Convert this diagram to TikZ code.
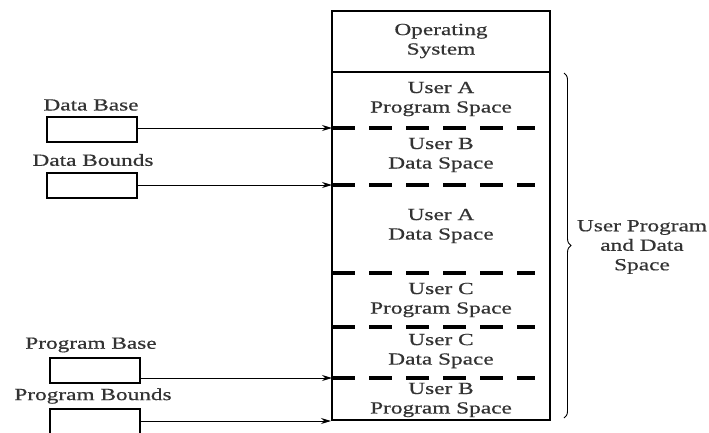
\documentclass[tikz,border=0pt]{standalone}
\usepackage{fontspec}
\setmainfont{Liberation Serif}[FakeStretch=1.37,FakeBold=0.6]
\usetikzlibrary{arrows.meta,decorations.pathreplacing}
\definecolor{txt}{HTML}{333333}
\begin{document}
\begin{tikzpicture}[x=1pt,y=-1pt,
  every node/.style={text=txt,font=\fontsize{17}{19.5}\selectfont,align=center,inner sep=0pt},
  regbox/.style={draw=black,line width=2pt,minimum width=90pt,minimum height=25pt},
  membox/.style={draw=black,line width=2pt,minimum width=218pt,minimum height=409pt},
  sep/.style={line width=3.5pt,dash pattern=on 23pt off 14pt},
  ptr/.style={-{Stealth[length=10pt,width=6pt]},line width=0.9pt}]
\useasboundingbox (0,0) rectangle (709,432);
\clip (0,0) rectangle (709,432);
% memory
\node[membox] (mem) at (441,215.5) {};
\draw[line width=2pt] (mem.west |- 0,72) coordinate (os) -- (mem.east |- 0,72);
\coordinate (d1) at (332,128);
\coordinate (d2) at (332,185);
\coordinate (d3) at (332,273);
\coordinate (d4) at (332,327);
\coordinate (d5) at (332,378);
\foreach \c in {d1,d2,d3,d4,d5} \draw[sep] (\c) -- ++(203,0);
\node (t0) at (441,41) {Operating\\System};
\node (t1) at (441,99) {User A\\Program Space};
\node (t2) at (441,155) {User B\\Data Space};
\node (t3) at (441,226) {User A\\Data Space};
\node (t4) at (441,300) {User C\\Program Space};
\node (t5) at (441,351) {User C\\Data Space};
\node (t6) at (441,400) {User B\\Program Space};
% registers
\node (ldb) at (91,105) {Data Base};
\node[regbox] (db) at (91.5,129.5) {};
\node (ldbd) at (93,160) {Data Bounds};
\node[regbox] (dbd) at (91.5,185) {};
\node (lpb) at (91,345) {Program Base};
\node[regbox] (pb) at (95,370) {};
\node (lpbd) at (93,396) {Program Bounds};
\node[regbox] (pbd) at (95,421) {};
\draw[ptr] (db.east |- d1) -- (d1);
\draw[ptr] (dbd.east |- d2) -- (d2);
\draw[ptr] (pb.east |- d5) -- (d5);
\draw[ptr] (pbd.east |- mem.south west) -- (mem.south west);
% brace
\coordinate (bt) at (564,73);
\coordinate (bb) at (564,418);
\draw[line width=0.9pt,decorate,decoration={brace,amplitude=7pt}] (bt) -- (bb);
\node (lu) at (642,247) {User Program\\and Data\\Space};
\end{tikzpicture}
\end{document}
